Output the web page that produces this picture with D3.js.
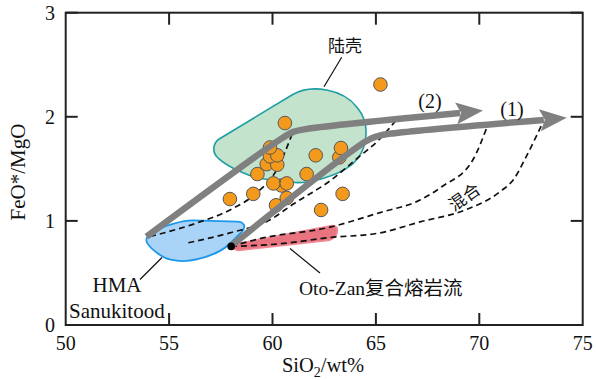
<!DOCTYPE html>
<html><head><meta charset="utf-8">
<script src="https://cdn.jsdelivr.net/npm/d3@7"></script>
<style>
html,body{margin:0;padding:0;background:#fff;}
svg{display:block;}
text{font-family:"Liberation Serif","Times New Roman","Noto Sans CJK SC",serif;fill:#111;}
.cjk{font-family:"Noto Sans CJK SC","Liberation Serif",sans-serif;}
</style></head>
<body>
<script>
// ---- data ----
const xTicks = [50, 55, 60, 65, 70, 75];
const yTicks = [0, 1, 2, 3];
const sampleSiO2 = [57.94, 59.07, 60.17, 62.35, 63.39, 60.69, 60.44, 60.04, 60.69, 59.27, 61.65, 59.72, 60.23, 59.88, 60.23, 62.09, 63.23, 63.31, 59.88, 60.60, 65.22];
const sampleFeMg = [1.21, 1.26, 1.15, 1.105, 1.26, 1.22, 1.34, 1.36, 1.36, 1.45, 1.45, 1.545, 1.54, 1.62, 1.63, 1.63, 1.61, 1.70, 1.705, 1.94, 2.31];
// field outlines (corner vertices, data units)
const crustField = [[56.78,1.71],[62.78,2.43],[65.30,1.775],[62.54,1.335],[58.33,1.43]];
const hmaField = [[53.79,0.837],[55.14,1.01],[59.01,0.99],[56.74,0.55],[54.32,0.663]];
const otoZanField = [[57.94,0.769],[63.07,0.962],[63.20,0.89],[62.93,0.817],[58.19,0.712]];
// evolution trends
const arrow2Path = [[53.91,0.85],[60.5,1.80],[61.0,1.855],[61.7,1.885],[70.18,2.06]];
const arrow1Path = [[58.0,0.76],[64.56,1.77],[65.10,1.815],[65.78,1.84],[74.23,1.99]];
// mixing curves
const dashA = [[54.08,0.85],[56.34,0.98],[57.94,1.105],[59.24,1.27],[60.20,1.49],[61.0,1.86]];
const dashB = [[55.93,0.79],[57.94,0.885],[59.88,1.01],[60.99,1.16],[62.78,1.385],[64.09,1.60],[65.20,1.79],[66.07,1.99]];
const dashC = [[57.99,0.755],[59.40,0.83],[62.78,0.94],[65.20,1.08],[67.13,1.20],[68.2,1.33],[69.70,1.59],[70.37,1.90]];
const dashD = [[57.99,0.755],[60.36,0.78],[62.78,0.84],[65.20,0.885],[67.13,0.99],[69.38,1.11],[71.0,1.28],[71.7,1.41],[72.2,1.59],[73.08,1.95]];
const mixPoint = [58.0, 0.755];

// ---- chart ----
const W = 596, H = 380;
const svg = d3.select("body").append("svg").attr("width", W).attr("height", H);
const x = d3.scaleLinear().domain([50, 75]).range([65.7, 582.7]);
const y = d3.scaleLinear().domain([0, 3]).range([325, 12.7]);
const smooth = d3.line().x(d => x(d[0])).y(d => y(d[1])).curve(d3.curveMonotoneX);

function roundedPoly(pts, radii) {
  const P = pts.map(d => [x(d[0]), y(d[1])]);
  const n = P.length, k = 0.5;
  const ins = [], outs = [];
  for (let i = 0; i < n; i++) {
    const c = P[i], pr = P[(i - 1 + n) % n], nx = P[(i + 1) % n], r = radii[i];
    const a = [pr[0] - c[0], pr[1] - c[1]], la = Math.hypot(a[0], a[1]);
    const b = [nx[0] - c[0], nx[1] - c[1]], lb = Math.hypot(b[0], b[1]);
    ins.push([c[0] + a[0] / la * r, c[1] + a[1] / la * r]);
    outs.push([c[0] + b[0] / lb * r, c[1] + b[1] / lb * r]);
  }
  let d = `M${outs[0][0]},${outs[0][1]}`;
  for (let j = 1; j <= n; j++) {
    const i = j % n, c = P[i], a = ins[i], b = outs[i];
    const c1 = [a[0] + (c[0] - a[0]) * k, a[1] + (c[1] - a[1]) * k];
    const c2 = [b[0] + (c[0] - b[0]) * k, b[1] + (c[1] - b[1]) * k];
    d += `L${a[0]},${a[1]}C${c1[0]},${c1[1]} ${c2[0]},${c2[1]} ${b[0]},${b[1]}`;
  }
  return d + "Z";
}

// fields
svg.append("path").attr("d", roundedPoly(crustField, [16, 44, 38, 33, 26]))
  .attr("fill", "#c4e3cd").attr("stroke", "#1f9ea3").attr("stroke-width", 1.6);
svg.append("path").attr("d", roundedPoly(hmaField, [6, 22, 15, 34, 15]))
  .attr("fill", "#aad3f8").attr("stroke", "#1e98ea").attr("stroke-width", 1.8);
svg.append("path").attr("d", roundedPoly(otoZanField, [3, 4, 5, 5, 4]))
  .attr("fill", "#e9737f").attr("stroke", "#f08c98").attr("stroke-width", 1.5);

// dashed curves
[dashA, dashB, dashC, dashD].forEach(d => {
  svg.append("path").attr("d", smooth(d)).attr("fill", "none")
    .attr("stroke", "#111").attr("stroke-width", 1.7).attr("stroke-dasharray", "6,4");
});

// points
svg.append("g").selectAll("circle").data(sampleSiO2).join("circle")
  .attr("cx", d => x(d)).attr("cy", (d, i) => y(sampleFeMg[i])).attr("r", 6.8)
  .attr("fill", "#f39a1d").attr("stroke", "#555").attr("stroke-width", 1);

// arrows
function arrow(pts) {
  const n = pts.length;
  const tip = [x(pts[n-1][0]), y(pts[n-1][1])];
  const prev = [x(pts[n-2][0]), y(pts[n-2][1])];
  const dx = tip[0] - prev[0], dy = tip[1] - prev[1];
  const L = Math.hypot(dx, dy), ux = dx / L, uy = dy / L;
  const hl = 27, hw = 11;
  const base = [tip[0] - ux * hl, tip[1] - uy * hl];
  const shaftEnd = [tip[0] - ux * (hl - 4), tip[1] - uy * (hl - 4)];
  const shaftPts = pts.slice(0, n - 1).map(p => [x(p[0]), y(p[1])]).concat([shaftEnd]);
  svg.append("path").attr("d", d3.line().curve(d3.curveCatmullRom.alpha(0.5))(shaftPts))
    .attr("fill", "none").attr("stroke", "#808080").attr("stroke-width", 6.5).attr("stroke-linecap", "butt");
  svg.append("path").attr("d", `M${tip[0]},${tip[1]}L${base[0] - uy * hw},${base[1] + ux * hw}L${base[0] + ux*5},${base[1] + uy*5}L${base[0] + uy * hw},${base[1] - ux * hw}Z`)
    .attr("fill", "#808080");
}
arrow(arrow2Path);
arrow(arrow1Path);

svg.append("circle").attr("cx", x(mixPoint[0])).attr("cy", y(mixPoint[1])).attr("r", 3.8).attr("fill", "#000");

// axes box
const g = svg.append("g").attr("stroke", "#222").attr("stroke-width", 2).attr("fill", "none");
g.append("rect").attr("x", x(50)).attr("y", y(3)).attr("width", x(75) - x(50)).attr("height", y(0) - y(3));
const TL = 12;
xTicks.slice(1, -1).forEach(t => {
  g.append("line").attr("x1", x(t)).attr("x2", x(t)).attr("y1", y(0)).attr("y2", y(0) - TL);
  g.append("line").attr("x1", x(t)).attr("x2", x(t)).attr("y1", y(3)).attr("y2", y(3) + TL);
});
yTicks.forEach(t => {
  g.append("line").attr("x1", x(50)).attr("x2", x(50) + TL).attr("y1", y(t)).attr("y2", y(t));
  g.append("line").attr("x1", x(75)).attr("x2", x(75) - TL).attr("y1", y(t)).attr("y2", y(t));
});
svg.append("g").selectAll("text").data(xTicks).join("text")
  .attr("x", d => x(d)).attr("y", 350).attr("text-anchor", "middle").attr("font-size", 20).text(d => d);
svg.append("g").selectAll("text").data(yTicks).join("text")
  .attr("x", 55).attr("y", d => y(d)).attr("dy", "0.35em").attr("text-anchor", "end").attr("font-size", 20).text(d => d);

// axis titles
const xt = svg.append("text").attr("x", 323).attr("y", 372).attr("text-anchor", "middle").attr("font-size", 20.5);
xt.append("tspan").text("SiO");
xt.append("tspan").attr("font-size", 14).attr("dy", 5).text("2");
xt.append("tspan").attr("dy", -5).text("/wt%");
svg.append("text").attr("transform", "translate(25,172) rotate(-90)").attr("text-anchor", "middle")
  .attr("font-size", 21).text("FeO*/MgO");

// labels
svg.append("text").attr("x", 430).attr("y", 108).attr("text-anchor", "middle").attr("font-size", 20).text("(2)");
svg.append("text").attr("x", 512).attr("y", 116).attr("text-anchor", "middle").attr("font-size", 20).text("(1)");
svg.append("text").attr("class", "cjk").attr("x", 345).attr("y", 52).attr("text-anchor", "middle").attr("font-size", 17).text("陆壳");
svg.append("text").attr("class", "cjk").attr("transform", "translate(468,202) rotate(-35)").attr("text-anchor", "middle").attr("font-size", 17).text("混合");
svg.append("text").attr("x", 117).attr("y", 292).attr("text-anchor", "middle").attr("font-size", 21).text("HMA");
svg.append("text").attr("x", 69).attr("y", 318).attr("font-size", 21).text("Sanukitood");
svg.append("text").attr("x", 299).attr("y", 295).attr("font-size", 19.5).text("Oto-Zan复合熔岩流");

// leader lines
const lg = svg.append("g").attr("stroke", "#111").attr("stroke-width", 1.2);
lg.append("line").attr("x1", 341.7).attr("y1", 57.3).attr("x2", 324).attr("y2", 86.7);
lg.append("line").attr("x1", 162).attr("y1", 257.5).attr("x2", 140).attr("y2", 279.5);
lg.append("line").attr("x1", 290).attr("y1", 248.5).attr("x2", 320).attr("y2", 273);
</script>
</body></html>
